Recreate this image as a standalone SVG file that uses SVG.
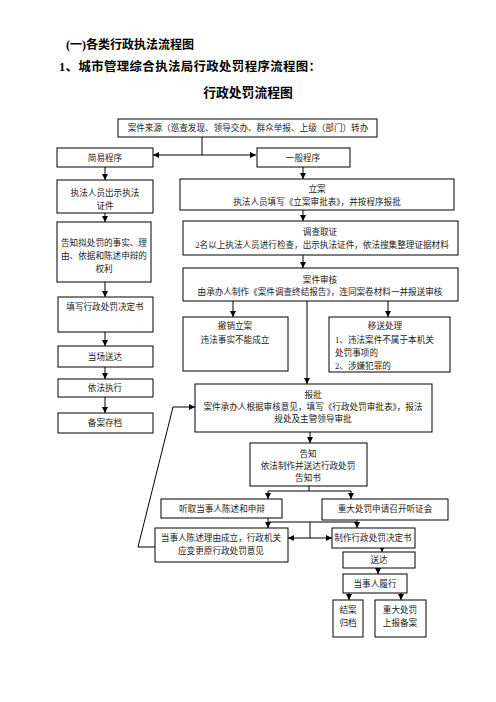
<svg xmlns="http://www.w3.org/2000/svg" width="496" height="702" viewBox="0 0 496 702">
<defs>
<marker id="ah" viewBox="0 0 6 6" refX="6" refY="3" markerWidth="6" markerHeight="6" markerUnits="userSpaceOnUse" orient="auto">
<path d="M0,0 L6,3 L0,6 Z" fill="#000"/>
</marker>
</defs>
<style>
.b{fill:#fff;stroke:#000;stroke-width:1}
.t{font-family:"Liberation Serif","Noto Sans CJK SC",serif;font-size:8.6px;fill:#222;text-anchor:middle;dominant-baseline:central}
.l{text-anchor:start}
.h{font-family:"Liberation Serif","Noto Sans CJK SC",serif;font-weight:bold;fill:#000;dominant-baseline:central}
.c path{fill:none;stroke:#000;stroke-width:1}
.c .a{marker-end:url(#ah)}
</style>
<rect width="496" height="702" fill="#fff"/>
<text class="h" x="66" y="45" font-size="12">(一)各类行政执法流程图</text>
<text class="h" x="59" y="67" font-size="12.4" letter-spacing="0.4">1、城市管理综合执法局行政处罚程序流程图：</text>
<text class="h" x="248" y="93" font-size="12.8" text-anchor="middle">行政处罚流程图</text>

<g class="c">
<path d="M202,137 V155"/>
<path class="a" d="M202,155 H153"/>
<path class="a" d="M202,155 H256"/>
<path class="a" d="M105,167 V180"/>
<path class="a" d="M303,167 V179"/>
<path class="a" d="M303,210 V221"/>
<path class="a" d="M303,255 V268"/>
<path class="a" d="M105,213 V222"/>
<path class="a" d="M105,282 V297"/>
<path class="a" d="M105,332 V346"/>
<path class="a" d="M105,367 V379"/>
<path class="a" d="M105,397 V413"/>
<path class="a" d="M233,301 V317"/>
<path class="a" d="M388,301 V317"/>
<path class="a" d="M307,301 V384"/>
<path class="a" d="M155,547 H138 L173,407 H195"/>
<path class="a" d="M310,432 V443"/>
<path d="M309,486 V491 M268,491 H351"/>
<path class="a" d="M268,491 V499"/>
<path class="a" d="M351,491 V499"/>
<path d="M268,518 V522 H357 V520"/>
<path class="a" d="M268,522 V528"/>
<path class="a" d="M357,522 V528"/>
<path d="M310,522 V538"/>
<path class="a" d="M310,538 H288"/>
<path class="a" d="M310,538 H332"/>
<path class="a" d="M382,548 V552"/>
<path class="a" d="M378,568 V574"/>
<path class="a" d="M349,593 V600"/>
<path class="a" d="M401,593 V600"/>
</g>

<g id="source"><rect class="b" x="118" y="119" width="259" height="18"/><text class="t" x="248" y="128">案件来源（巡查发现、领导交办、群众举报、上级（部门）转办</text></g>
<g id="simple"><rect class="b" x="57" y="148" width="96" height="19"/><text class="t" x="105" y="157.5">简易程序</text></g>
<g id="general"><rect class="b" x="257" y="148" width="93" height="19"/><text class="t" x="303" y="157.5">一般程序</text></g>
<g id="show-id"><rect class="b" x="57" y="180" width="96" height="33"/><text class="t" x="105" y="193">执法人员出示执法</text><text class="t" x="105" y="206">证件</text></g>
<g id="lian"><rect class="b" x="180" y="179" width="274" height="31"/><text class="t" x="317" y="189">立案</text><text class="t" x="317" y="202">执法人员填写《立案审批表》，并按程序报批</text></g>
<g id="diaocha"><rect class="b" x="183" y="221" width="275" height="34"/><text class="t" x="320" y="232">调查取证</text><text class="t" x="322" y="245" font-size="8.8">2名以上执法人员进行检查，出示执法证件，依法搜集整理证据材料</text></g>
<g id="shenhe"><rect class="b" x="183" y="268" width="275" height="33"/><text class="t" x="320" y="280">案件审核</text><text class="t" x="320" y="292" font-size="8.8">由承办人制作《案件调查终结报告》，连同案卷材料一并报送审核</text></g>
<g id="inform"><rect class="b" x="57" y="222" width="94" height="60"/><text class="t" x="104" y="243">告知拟处罚的事实、理</text><text class="t" x="104" y="256">由、依据和陈述申辩的</text><text class="t" x="104" y="269">权利</text></g>
<g id="fill-decision"><rect class="b" x="58" y="297" width="95" height="35"/><text class="t" x="105" y="307">填写行政处罚决定书</text></g>
<g id="deliver-spot"><rect class="b" x="58" y="346" width="95" height="21"/><text class="t" x="105" y="356.5">当场送达</text></g>
<g id="execute"><rect class="b" x="58" y="379" width="95" height="18"/><text class="t" x="105" y="388">依法执行</text></g>
<g id="archive"><rect class="b" x="58" y="413" width="95" height="20"/><text class="t" x="105" y="423">备案存档</text></g>
<g id="revoke"><rect class="b" x="183" y="317" width="105" height="54"/><text class="t" x="235" y="326">撤销立案</text><text class="t" x="235" y="340">违法事实不能成立</text></g>
<g id="transfer"><rect class="b" x="329" y="317" width="121" height="55"/><text class="t" x="385" y="326">移送处理</text><text class="t l" x="335" y="340">1、违法案件不属于本机关</text><text class="t l" x="335" y="353">处罚事项的</text><text class="t l" x="335" y="366">2、涉嫌犯罪的</text></g>
<g id="baopi"><rect class="b" x="195" y="384" width="237" height="48"/><text class="t" x="313" y="395">报批</text><text class="t" x="313" y="407">案件承办人根据审核意见，填写《行政处罚审批表》，报法</text><text class="t" x="313" y="419">规处及主管领导审批</text></g>
<g id="gaozhi"><rect class="b" x="250" y="443" width="117" height="43"/><text class="t" x="308" y="454">告知</text><text class="t" x="308" y="466">依法制作并送达行政处罚</text><text class="t" x="308" y="478">告知书</text></g>
<g id="listen"><rect class="b" x="161" y="499" width="121" height="19"/><text class="t" x="222" y="508.5">听取当事人陈述和申辩</text></g>
<g id="hearing"><rect class="b" x="322" y="499" width="126" height="21"/><text class="t" x="385" y="509">重大处罚申请召开听证会</text></g>
<g id="change"><rect class="b" x="155" y="528" width="133" height="34"/><text class="t" x="221" y="538">当事人陈述理由成立，行政机关</text><text class="t" x="221" y="551">应变更原行政处罚意见</text></g>
<g id="make-decision"><rect class="b" x="332" y="528" width="83" height="20"/><text class="t" x="373" y="538">制作行政处罚决定书</text></g>
<g id="songda"><rect class="b" x="343" y="552" width="72" height="16"/><text class="t" x="379" y="560">送达</text></g>
<g id="perform"><rect class="b" x="343" y="574" width="64" height="19"/><text class="t" x="375" y="583.5">当事人履行</text></g>
<g id="close"><rect class="b" x="333" y="600" width="30" height="37"/><text class="t" x="348" y="610">结案</text><text class="t" x="348" y="623">归档</text></g>
<g id="report"><rect class="b" x="375" y="600" width="51" height="37"/><text class="t" x="400" y="610">重大处罚</text><text class="t" x="400" y="623">上报备案</text></g>
</svg>
